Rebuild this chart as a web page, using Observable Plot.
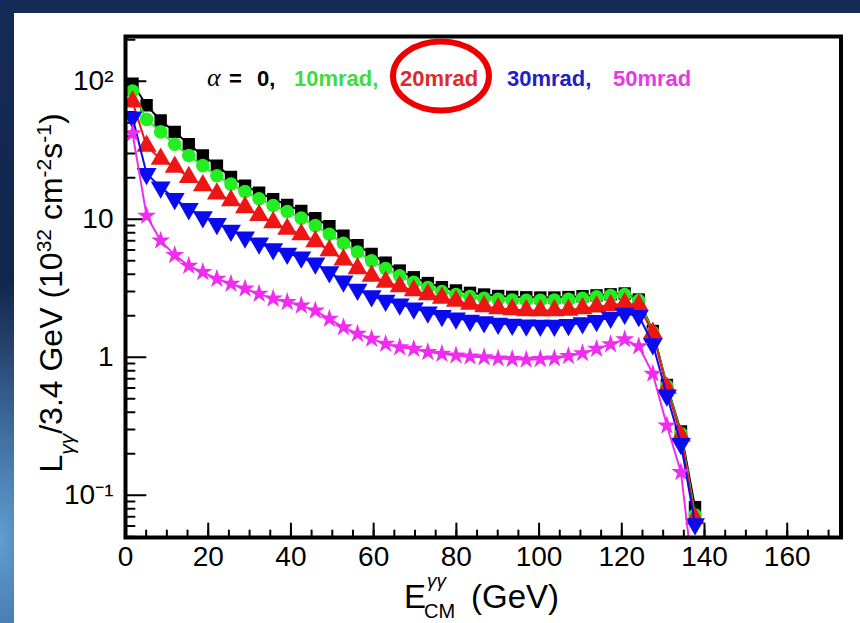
<!DOCTYPE html>
<html><head><meta charset="utf-8">
<script src="https://cdn.jsdelivr.net/npm/d3@7"></script>
<script src="https://cdn.jsdelivr.net/npm/@observablehq/plot@0.6"></script>
<style>
html,body{margin:0;padding:0;}
body{width:860px;height:623px;overflow:hidden;position:relative;
 background:
  radial-gradient(ellipse 110px 260px at 0px 540px, rgba(110,175,230,0.85), rgba(110,175,230,0) 100%),
  linear-gradient(180deg,#142b57 0%,#10254c 55%,#173d70 100%);}
#panel{position:absolute;left:14px;top:13px;right:0;bottom:0;background:#fff;}
#chart{position:absolute;left:0;top:0;}
</style></head><body><div id="panel"></div><div id="chart"></div>
<script>
// photon-photon CM energy bin centres (GeV), bin width 3.4 GeV
const energy = [1.7, 5.1, 8.5, 11.9, 15.3, 18.7, 22.1, 25.5, 28.9, 32.3, 35.7, 39.1, 42.5, 45.9, 49.3, 52.7, 56.1, 59.5, 62.9, 66.3, 69.7, 73.1, 76.5, 79.9, 83.3, 86.7, 90.1, 93.5, 96.9, 100.3, 103.7, 107.1, 110.5, 113.9, 117.3, 120.7, 124.1, 127.5, 130.9, 134.3, 137.7];
// luminosity per 3.4 GeV bin (10^32 cm^-2 s^-1)
const alpha0 = [96, 67, 52, 43, 35, 29, 24.5, 20.3, 17.5, 15.6, 14, 12.7, 11.5, 10.2, 8.9, 7.6, 6.5, 5.6, 4.85, 4.25, 3.8, 3.45, 3.22, 3.05, 2.93, 2.85, 2.78, 2.74, 2.72, 2.71, 2.71, 2.73, 2.77, 2.81, 2.86, 2.9, 2.62, 1.55, 0.63, 0.29, 0.082];
const alpha10 = [85, 53, 43, 35, 29, 24.5, 20.7, 18, 15.9, 14.1, 12.6, 11.4, 10.2, 9.0, 7.8, 6.7, 5.8, 5.0, 4.4, 3.9, 3.5, 3.2, 3.0, 2.85, 2.75, 2.68, 2.63, 2.6, 2.59, 2.59, 2.6, 2.63, 2.68, 2.74, 2.8, 2.85, 2.58, 1.52, 0.62, 0.28, 0.072];
const alpha20 = [71, 34, 27.4, 23.9, 20.2, 17.6, 15.3, 13.7, 12.2, 10.7, 9.5, 8.5, 7.76, 6.9, 5.94, 5.1, 4.4, 3.88, 3.51, 3.26, 3.05, 2.85, 2.69, 2.56, 2.43, 2.33, 2.26, 2.22, 2.18, 2.18, 2.18, 2.2, 2.26, 2.32, 2.38, 2.45, 2.38, 1.5, 0.6, 0.27, 0.068];
const alpha30 = [55, 21.4, 17.1, 14.1, 11.9, 10.4, 9.3, 8.3, 7.4, 6.7, 6.1, 5.65, 5.3, 4.8, 4.15, 3.55, 3.1, 2.78, 2.58, 2.42, 2.27, 2.12, 2.0, 1.92, 1.85, 1.8, 1.76, 1.73, 1.71, 1.7, 1.7, 1.72, 1.77, 1.84, 1.94, 2.08, 2.0, 1.25, 0.53, 0.236, 0.062];
const alpha50 = [42, 10.6, 7.0, 5.5, 4.6, 4.14, 3.7, 3.41, 3.14, 2.88, 2.66, 2.51, 2.37, 2.18, 1.9, 1.65, 1.48, 1.36, 1.25, 1.18, 1.15, 1.09, 1.06, 1.03, 1.01, 1.0, 0.98, 0.97, 0.96, 0.97, 0.98, 1.02, 1.07, 1.15, 1.24, 1.35, 1.2, 0.76, 0.32, 0.147, 0.02];

const seriesNames = ["α = 0", "10mrad", "20mrad", "30mrad", "50mrad"];
const seriesValues = [alpha0, alpha10, alpha20, alpha30, alpha50];
const seriesColors = ["#000000", "#22ee22", "#ee1515", "#0a0aee", "#f02cf0"];
const seriesSymbols = ["square", "circle", "triangle", "triangle", "star"];
const seriesRotate = [0, 0, 0, 180, 0];
const seriesR = [7, 6.8, 7.4, 7.4, 6];

const xTickLabels = [0, 20, 40, 60, 80, 100, 120, 140, 160];
const xMinorTicks = d3.range(0, 175, 5);
const yTickValues = [0.1, 1, 10, 100];
const yTickLabels = ["10⁻¹", "1", "10", "10²"];
const yMinorTicks = [0.05,0.06,0.07,0.08,0.09, 0.2,0.3,0.4,0.5,0.6,0.7,0.8,0.9, 2,3,4,5,6,7,8,9, 20,30,40,50,60,70,80,90, 200];

const rows = [];
seriesNames.forEach((name, s) => seriesValues[s].forEach((v, i) => rows.push({series: name, E: energy[i], L: v})));

const tickShape = {draw(context, l) { context.moveTo(0, 0); context.lineTo(0, -l); }};

const marks = [
  Plot.vector(xMinorTicks, {x: d => d, frameAnchor: "bottom", length: 7, rotate: 0, anchor: "start", shape: tickShape, stroke: "black", strokeWidth: 2}),
  Plot.vector(xTickLabels, {x: d => d, frameAnchor: "bottom", length: 14, rotate: 0, anchor: "start", shape: tickShape, stroke: "black", strokeWidth: 2}),
  Plot.vector(yMinorTicks, {y: d => d, frameAnchor: "left", length: 9, rotate: 90, anchor: "start", shape: tickShape, stroke: "black", strokeWidth: 2}),
  Plot.vector(yTickValues, {y: d => d, frameAnchor: "left", length: 20, rotate: 90, anchor: "start", shape: tickShape, stroke: "black", strokeWidth: 2}),
  Plot.axisX({ticks: xTickLabels, tickSize: 0, tickPadding: 9, fontSize: 28, label: null, tickFormat: d => String(d)}),
  Plot.axisY({ticks: yTickValues, tickSize: 0, tickPadding: 12, fontSize: 28, label: null, tickFormat: d => yTickLabels[yTickValues.indexOf(d)]})
];
seriesNames.forEach((name, s) => {
  const data = rows.filter(r => r.series === name);
  marks.push(Plot.line(data, {x: "E", y: "L", stroke: seriesColors[s], strokeWidth: 2, clip: true}));
  marks.push(Plot.dot(data, {x: "E", y: "L", symbol: seriesSymbols[s], r: seriesR[s], fill: seriesColors[s], rotate: seriesRotate[s], clip: true}));
});
marks.push(Plot.frame({stroke: "black", strokeWidth: 4}));

const plot = Plot.plot({
  width: 860, height: 623,
  marginLeft: 125, marginRight: 19.5, marginTop: 36, marginBottom: 86,
  style: {background: "transparent", fontFamily: "'Liberation Sans', Arial, sans-serif", overflow: "visible", color: "black"},
  x: {domain: [0, 173]},
  y: {type: "log", domain: [0.04944, 211.2]},
  marks
});
document.getElementById("chart").appendChild(plot);

const svg = d3.select(plot);
// legend line
const leg = svg.append("g").attr("text-anchor", "start").attr("font-family", "'Liberation Sans', Arial, sans-serif").attr("font-weight", "bold").attr("font-size", 22);
leg.append("text").attr("x", 207).attr("y", 86).attr("font-family", "'Liberation Serif', serif").attr("font-style", "italic").attr("font-weight", "normal").attr("font-size", 26).text("α");
leg.append("text").attr("x", 229).attr("y", 86).text("=");
leg.append("text").attr("x", 257).attr("y", 86).text("0,");
const legPieces = [["10mrad,", 294, "#3fdc3f"], ["20mrad", 400, "#dd2a2a"], ["30mrad,", 507, "#2020c8"], ["50mrad", 613, "#e33be3"]];
legPieces.forEach(([t, x, c]) => leg.append("text").attr("x", x).attr("y", 86).attr("fill", c).text(t));
svg.append("ellipse").attr("cx", 441).attr("cy", 76).attr("rx", 48).attr("ry", 34.5)
  .attr("fill", "none").attr("stroke", "#ee0000").attr("stroke-width", 6);

// axis titles
const yt = svg.append("text").attr("transform", "translate(62,293) rotate(-90)").attr("text-anchor", "middle")
  .attr("font-size", 32).attr("font-family", "'Liberation Sans', Arial, sans-serif");
yt.append("tspan").text("L");
yt.append("tspan").attr("baseline-shift", "sub").attr("font-size", 21).attr("font-style", "italic").text("γγ");
yt.append("tspan").text("/3.4 GeV (10");
yt.append("tspan").attr("baseline-shift", "super").attr("font-size", 21).text("32");
yt.append("tspan").text(" cm");
yt.append("tspan").attr("baseline-shift", "super").attr("font-size", 21).text("-2");
yt.append("tspan").text("s");
yt.append("tspan").attr("baseline-shift", "super").attr("font-size", 21).text("-1");
yt.append("tspan").text(")");

const xt = svg.append("g").attr("text-anchor", "start").attr("font-family", "'Liberation Sans', Arial, sans-serif");
xt.append("text").attr("x", 404).attr("y", 608).attr("font-size", 33).text("E");
xt.append("text").attr("x", 427).attr("y", 587).attr("font-size", 19).attr("font-style", "italic").text("γγ");
xt.append("text").attr("x", 424).attr("y", 618).attr("font-size", 20).text("CM");
xt.append("text").attr("x", 471).attr("y", 608).attr("font-size", 33).text("(GeV)");
</script></body></html>
